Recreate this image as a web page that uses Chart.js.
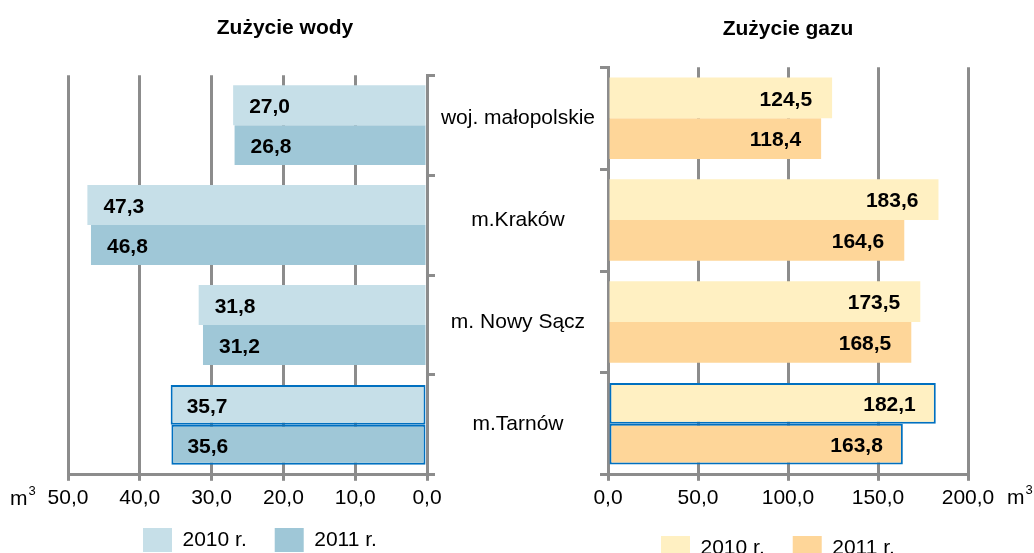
<!DOCTYPE html>
<html><head><meta charset="utf-8">
<script src="https://cdn.jsdelivr.net/npm/chart.js@4.4.1/dist/chart.umd.min.js"></script>
<style>
html,body{margin:0;padding:0;background:#fff;overflow:hidden;width:1034px;height:553px}
#wl{position:absolute;left:0;top:0;width:502px;height:578px}
#wr{position:absolute;left:427px;top:0;width:607px;height:578px}
</style></head><body>
<div id="wl"><canvas id="cl"></canvas></div>
<div id="wr"><canvas id="cr"></canvas></div>
<script>
const categories = ['woj. małopolskie', 'm.Kraków', 'm. Nowy Sącz', 'm.Tarnów'];
const seriesLabels = ['2010 r.', '2011 r.'];
const water2010 = [27.0, 47.3, 31.8, 35.7];
const water2011 = [26.8, 46.8, 31.2, 35.6];
const gas2010 = [124.5, 183.6, 173.5, 182.1];
const gas2011 = [118.4, 164.6, 168.5, 163.8];
const waterTicks = [0, 10, 20, 30, 40, 50];
const gasTicks = [0, 50, 100, 150, 200];
const titles = ['Zużycie wody', 'Zużycie gazu'];
const unitLabel = 'm';
const unitSup = '3';
const highlight = 'm.Tarnów';

const FONT = '"Liberation Sans", Arial, sans-serif';
const GRID = '#8c8c8c';
Chart.defaults.font.family = FONT;
Chart.defaults.color = '#000';

const fmt = v => Number(v).toFixed(1).replace('.', ',');

const valueLabels = {
  id: 'valueLabels',
  afterDatasetsDraw(chart, args, opts) {
    const ctx = chart.ctx;
    ctx.save();
    ctx.font = 'bold 21px ' + FONT;
    ctx.fillStyle = '#000';
    ctx.textBaseline = 'middle';
    chart.data.datasets.forEach((ds, di) => {
      const meta = chart.getDatasetMeta(di);
      meta.data.forEach((el, i) => {
        const txt = fmt(ds.data[i]);
        if (opts.side === 'left') {
          ctx.textAlign = 'left';
          ctx.fillText(txt, el.x + opts.offset, el.y + opts.dy);
        } else {
          ctx.textAlign = 'right';
          ctx.fillText(txt, el.x - opts.offset, el.y + opts.dy);
        }
      });
    });
    ctx.restore();
  }
};

const unitMark = {
  id: 'unitMark',
  afterDraw(chart, args, opts) {
    const ctx = chart.ctx;
    ctx.save();
    ctx.fillStyle = '#000';
    ctx.textBaseline = 'alphabetic';
    ctx.textAlign = 'left';
    ctx.font = '21px ' + FONT;
    ctx.fillText(unitLabel, opts.x, opts.y);
    const w = ctx.measureText(unitLabel).width;
    ctx.font = '13px ' + FONT;
    ctx.fillText(unitSup, opts.x + w + 1, opts.y - 10);
    ctx.restore();
  }
};

const legendPlace = {
  id: 'legendPlace',
  afterLayout(chart, args, opts) {
    const lg = chart.legend;
    if (!lg) return;
    const p = lg.options.labels.padding;
    const dx = opts.x - (lg.left + p);
    const dy = opts.y - (lg.top + p);
    lg.left += dx; lg.right += dx; lg.top += dy; lg.bottom += dy;
  }
};

const isHi = c => c.type === 'data' && categories[c.dataIndex] === highlight;
const bw = c => isHi(c) ? 2 : 0;
const bc = c => isHi(c) ? '#0070c0' : 'rgba(0,0,0,0)';

function makeChart(id, cfg) {
  return new Chart(document.getElementById(id), {
    type: 'bar',
    data: {
      labels: categories,
      datasets: [
        { label: seriesLabels[0], data: cfg.d1, backgroundColor: cfg.c1, borderColor: bc, borderWidth: bw },
        { label: seriesLabels[1], data: cfg.d2, backgroundColor: cfg.c2, borderColor: bc, borderWidth: bw }
      ]
    },
    options: {
      indexAxis: 'y',
      responsive: true,
      maintainAspectRatio: false,
      animation: false,
      layout: { padding: cfg.padding },
      datasets: { bar: { categoryPercentage: 0.8, barPercentage: 1, borderSkipped: false } },
      scales: {
        x: {
          type: 'linear', reverse: cfg.reverse, min: cfg.ticks[0], max: cfg.ticks[cfg.ticks.length - 1],
          position: 'bottom',
          afterBuildTicks: s => { s.ticks = cfg.ticks.map(v => ({ value: v })); },
          ticks: { callback: v => fmt(v), font: { size: 21 }, color: '#000', padding: 5, maxRotation: 0, autoSkip: false },
          grid: { color: GRID, lineWidth: 3, tickLength: 6, drawTicks: true },
          border: { display: true, color: GRID, width: 3 }
        },
        y: {
          type: 'category', position: cfg.yPos, offset: true,
          ticks: cfg.yTicks,
          grid: { offset: true, drawOnChartArea: false, color: GRID, lineWidth: 3, tickLength: 8 },
          border: { display: true, color: GRID, width: 3 },
          afterFit: s => { s.width = cfg.yWidth; }
        }
      },
      plugins: {
        title: { display: true, text: cfg.title, fullSize: cfg.titleFull, font: { size: 21, weight: 'bold' }, color: '#000', padding: cfg.titlePad },
        legend: { position: 'bottom', align: 'start', labels: { boxWidth: 29, boxHeight: 24, padding: 28, font: { size: 21 }, color: '#000' } },
        tooltip: { enabled: false },
        valueLabels: cfg.vl,
        unitMark: cfg.unit,
        legendPlace: cfg.legendAt
      }
    },
    plugins: [valueLabels, unitMark, legendPlace]
  });
}

makeChart('cl', {
  d1: water2010, d2: water2011, c1: '#c6dfe8', c2: '#9fc7d7',
  ticks: waterTicks, reverse: true,
  padding: { left: 68, right: 0, top: 0, bottom: 0 },
  yPos: 'right', yWidth: 75, yTicks: { display: false },
  title: titles[0], titleFull: true, titlePad: { top: 16, bottom: 34 },
  vl: { side: 'left', offset: 16, dy: 2 },
  unit: { x: 10, y: 505 },
  legendAt: { x: 143, y: 528 }
});

makeChart('cr', {
  d1: gas2010, d2: gas2011, c1: '#fff0c2', c2: '#fed699',
  ticks: gasTicks, reverse: false,
  padding: { left: 0, right: 66, top: 0, bottom: 0 },
  yPos: 'left', yWidth: 181, yTicks: { font: { size: 21 }, color: '#000', crossAlign: 'center', padding: 5, autoSkip: false },
  title: titles[1], titleFull: false, titlePad: { top: 17, bottom: 25 },
  vl: { side: 'right', offset: 20, dy: 2 },
  unit: { x: 580, y: 504 },
  legendAt: { x: 234, y: 536 }
});
</script>
</body></html>
